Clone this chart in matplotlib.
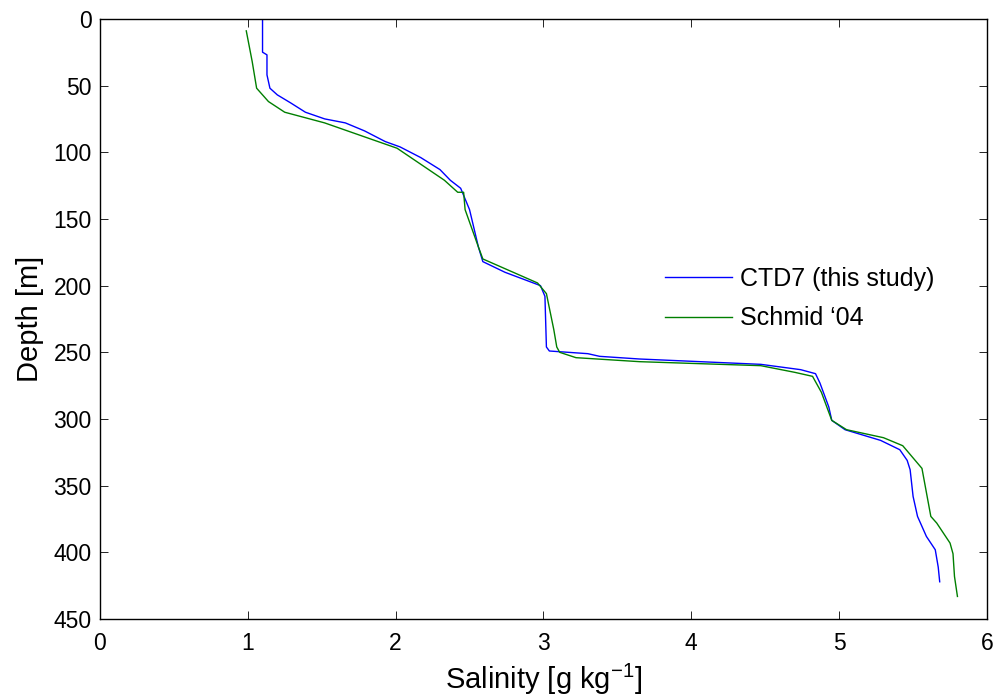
import matplotlib
matplotlib.use('Agg')
import matplotlib.pyplot as plt

plt.rcParams['font.family'] = ['Liberation Sans', 'DejaVu Sans']
plt.rcParams['mathtext.fontset'] = 'custom'
plt.rcParams['mathtext.rm'] = 'Liberation Sans'

# CTD7 (this study) profile
ctd_sal = [1.10, 1.10, 1.13, 1.13, 1.15, 1.20, 1.29, 1.39, 1.52, 1.66, 1.79, 1.93, 2.03,
           2.17, 2.30, 2.37, 2.44, 2.50, 2.56, 2.59, 2.74, 2.98, 3.01, 3.02, 3.04, 3.30,
           3.38, 3.65, 4.06, 4.47, 4.74, 4.84, 4.87, 4.93, 4.95, 5.04, 5.28, 5.41, 5.46,
           5.48, 5.50, 5.53, 5.59, 5.65, 5.67, 5.68]
ctd_depth = [0, 25, 27, 42, 52, 57, 63, 70, 75, 78, 84, 92, 96,
             104, 113, 121, 127, 143, 171, 182, 190, 200, 208, 246, 249, 251,
             253, 255, 257, 259, 263, 266, 273, 291, 301, 308, 316, 323, 331,
             338, 358, 373, 388, 398, 411, 422]

# Schmid '04 profile
sch_sal = [0.99, 1.03, 1.06, 1.14, 1.25, 1.52, 2.01, 2.33, 2.42, 2.46, 2.47, 2.56, 2.59,
           2.96, 3.02, 3.07, 3.09, 3.11, 3.22, 3.65, 4.47, 4.70, 4.82, 4.88, 4.95, 5.05,
           5.30, 5.43, 5.56, 5.62, 5.66, 5.75, 5.77, 5.78, 5.80]
sch_depth = [9, 32, 52, 62, 70, 78, 97, 121, 130, 130, 143, 171, 180,
             198, 206, 233, 246, 250, 254, 257, 260, 265, 268, 280, 301, 308,
             314, 320, 337, 373, 378, 393, 401, 418, 433]

fig = plt.figure(figsize=(9.99, 6.98), dpi=100)
ax = fig.add_axes([0.100, 0.113, 0.888, 0.860])

ax.plot(ctd_sal, ctd_depth, color='#0000ff', lw=1.0, label='CTD7 (this study)')
ax.plot(sch_sal, sch_depth, color='#007f00', lw=1.0, label="Schmid \u201804")

ax.set_xlim(0, 6)
ax.set_ylim(450, 0)
ax.set_xticks(range(0, 7))
ax.set_yticks(range(0, 451, 50))
ax.tick_params(direction='in', length=6, width=0.6, top=True, right=True,
               labelsize=16.5)
ax.tick_params(axis='x', pad=9.5)
ax.tick_params(axis='y', pad=6)
for s in ax.spines.values():
    s.set_linewidth(1.0)

ax.set_xlabel('Salinity [g kg$^{-1}$]', fontsize=21, labelpad=5)
ax.set_ylabel('Depth [m]', fontsize=21, labelpad=7)

ax.legend(loc='upper left', bbox_to_anchor=(0.637, 0.587), frameon=False, fontsize=18,
          borderpad=0, borderaxespad=0, handlelength=2.7, handletextpad=0.3,
          labelspacing=0.62)

fig.savefig('out.png', dpi=100)
